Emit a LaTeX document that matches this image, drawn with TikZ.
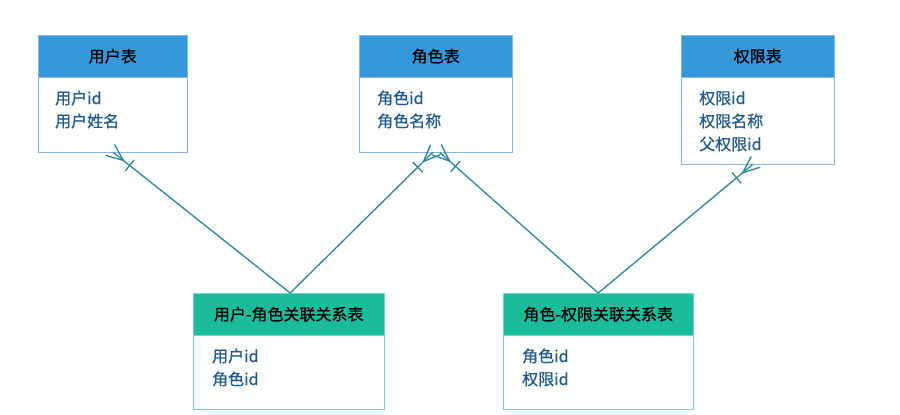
\documentclass[tikz,border=0pt]{standalone}
\usepackage{fontspec}
\setmainfont{Noto Sans CJK SC}[FakeBold=0.7]
\usetikzlibrary{calc}
\definecolor{hblue}{RGB}{52,152,219}
\definecolor{hgreen}{RGB}{26,188,156}
\definecolor{bblue}{RGB}{135,185,225}
\definecolor{bgreen}{RGB}{120,210,200}
\definecolor{ftxt}{RGB}{30,90,140}
\definecolor{conncol}{RGB}{45,135,150}
\tikzset{
  hdr/.style={anchor=north west, inner sep=0pt, minimum height=42pt, font=\fontsize{16}{18}\selectfont, text=black},
  hdrb/.style={hdr, fill=hblue, draw=bblue},
  hdrg/.style={hdr, fill=hgreen, draw=bgreen},
  bodyb/.style={anchor=north west, inner sep=0pt, draw=bblue, fill=white},
  bodyg/.style={anchor=north west, inner sep=0pt, draw=bgreen, fill=white},
  fld/.style={anchor=west, inner sep=0pt, text=ftxt, font=\fontsize{16}{18}\selectfont},
  conn/.style={draw=conncol, line width=1.3pt},
}
\newcommand\crowfoot[2]{%
  \coordinate (cfA) at ($(#1)!13pt!(#2)$);
  \coordinate (cfB) at ($(#1)!21pt!(#2)$);
  \coordinate (cfC) at ($(#1)!-4pt!(#2)$);
  \draw[conn] ($(cfC)!7pt!90:(#2)$) -- (cfA) -- ($(cfC)!7pt!-90:(#2)$);
  \draw[conn] ($(cfB)!7pt!90:(#2)$) -- ($(cfB)!7pt!-90:(#2)$);
}
\begin{document}
\begin{tikzpicture}[x=1pt,y=-1pt]
\useasboundingbox[fill=white] (0,0) rectangle (900,415);
% user table
\node[bodyb, minimum width=149pt, minimum height=75pt] (ub) at (38,77) {};
\node[hdrb, minimum width=149pt] (uh) at (38,35) {用户表};
\node[fld] (u1) at (55,98) {用户id};
\node[fld] (u2) at (55,121) {用户姓名};
% role table
\node[bodyb, minimum width=153pt, minimum height=75pt] (rb) at (359,77) {};
\node[hdrb, minimum width=153pt] (rh) at (359,35) {角色表};
\node[fld] (r1) at (377,98) {角色id};
\node[fld] (r2) at (377,121) {角色名称};
% permission table
\node[bodyb, minimum width=153pt, minimum height=87pt] (pb) at (681,77) {};
\node[hdrb, minimum width=153pt] (ph) at (681,35) {权限表};
\node[fld] (p1) at (699,98) {权限id};
\node[fld] (p2) at (699,121) {权限名称};
\node[fld] (p3) at (699,144) {父权限id};
% user-role
\node[bodyg, minimum width=191pt, minimum height=74pt] (urb) at (193,335) {};
\node[hdrg, minimum width=191pt] (urh) at (193,293) {用户-角色关联关系表};
\node[fld] (ur1) at (212,356) {用户id};
\node[fld] (ur2) at (212,379) {角色id};
% role-permission
\node[bodyg, minimum width=190pt, minimum height=74pt] (rpb) at (503,335) {};
\node[hdrg, minimum width=190pt] (rph) at (503,293) {角色-权限关联关系表};
\node[fld] (rp1) at (522,356) {角色id};
\node[fld] (rp2) at (522,379) {权限id};
% connector ends
\coordinate (eU) at ([xshift=0.5pt]ub.south);
\coordinate (eR1) at ([xshift=-3pt]rb.south);
\coordinate (eR2) at ([xshift=4pt]rb.south);
\coordinate (eP) at ([xshift=-5pt]pb.south);
\coordinate (eUR) at ([xshift=1.5pt]urh.north);
\coordinate (eRP) at (rph.north);
\draw[conn] (eU) -- (eUR) -- (eR1);
\draw[conn] (eR2) -- (eRP) -- (eP);
\crowfoot{eU}{eUR}
\crowfoot{eR1}{eUR}
\crowfoot{eR2}{eRP}
\crowfoot{eP}{eRP}
\end{tikzpicture}
\end{document}
